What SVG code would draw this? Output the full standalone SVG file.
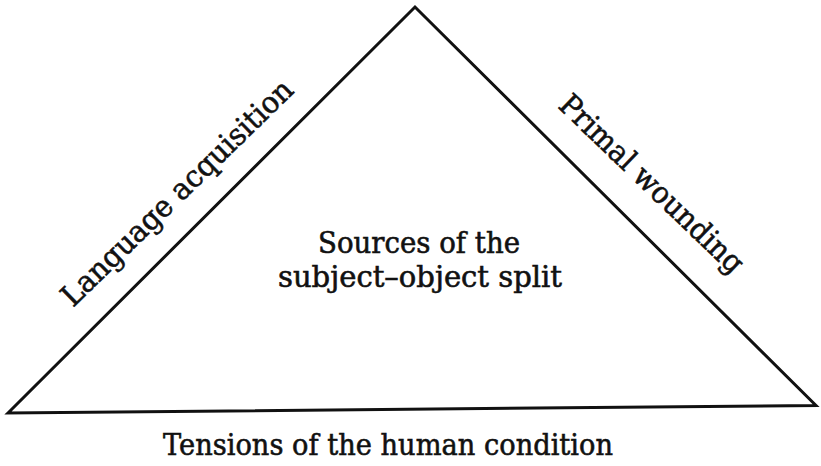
<svg xmlns="http://www.w3.org/2000/svg" width="821" height="466" viewBox="0 0 821 466">
  <style>
    .lbl { font-family: "DejaVu Serif", "Liberation Serif", serif; fill: #111; stroke: #111; stroke-width: 0.6; }
    .edge { fill: none; stroke: #111; stroke-width: 3; stroke-linejoin: miter; stroke-linecap: square; }
  </style>
  <rect width="821" height="466" fill="#fff"/>

  <!-- triangle sides -->
  <g id="connectors">
    <path class="edge" d="M8,413 L415,7 L816,405.5 Z"/>
  </g>

  <!-- left side label -->
  <g id="language-acquisition">
    <text class="lbl" font-size="30" transform="translate(73,308) rotate(-44.2)" textLength="310" lengthAdjust="spacingAndGlyphs">Language acquisition</text>
  </g>

  <!-- right side label -->
  <g id="primal-wounding">
    <text class="lbl" font-size="30" transform="translate(557,107) rotate(43.8)" textLength="243" lengthAdjust="spacingAndGlyphs">Primal wounding</text>
  </g>

  <!-- centre label -->
  <g id="sources">
    <text class="lbl" font-size="29" x="318" y="253" textLength="202" lengthAdjust="spacingAndGlyphs">Sources of the</text>
    <text class="lbl" font-size="29" x="278" y="287" textLength="284" lengthAdjust="spacingAndGlyphs">subject–object split</text>
  </g>

  <!-- base label -->
  <g id="tensions">
    <text class="lbl" font-size="30" x="163" y="455" textLength="450" lengthAdjust="spacingAndGlyphs">Tensions of the human condition</text>
  </g>
</svg>
